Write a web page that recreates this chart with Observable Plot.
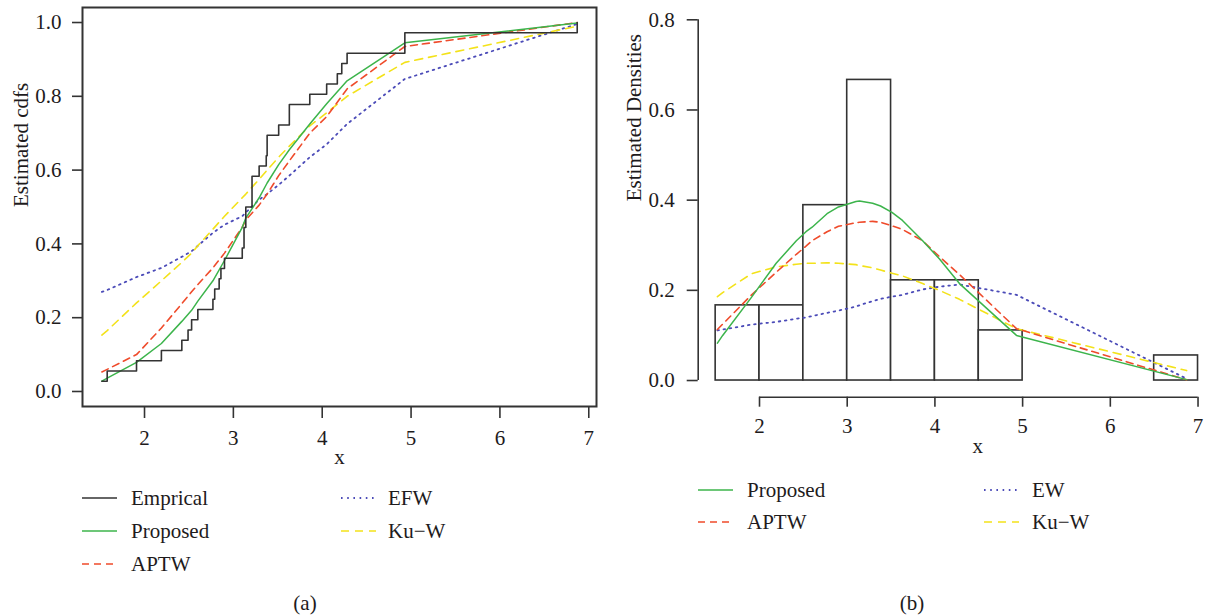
<!DOCTYPE html>
<html><head><meta charset="utf-8">
<script src="https://cdn.jsdelivr.net/npm/d3@7"></script>
<script src="https://cdn.jsdelivr.net/npm/@observablehq/plot@0.6"></script>
<style>
body{margin:0;background:#fff;}
#wrap{position:relative;width:1207px;height:615px;overflow:hidden;font-family:"Liberation Serif",serif;color:#1e1b1c;background:#fff;}
.panel{position:absolute;top:0;}
.panel text{font-family:"Liberation Serif",serif;}
.item{position:absolute;display:flex;align-items:center;white-space:nowrap;font-size:21px;height:30px;}
.item svg{display:block;}
.cap{position:absolute;font-size:21px;transform:translate(-50%,-50%);white-space:nowrap;}
</style></head><body><div id="wrap"></div>
<script>
const sample = [1.52,1.58,1.91,2.19,2.42,2.49,2.53,2.60,2.77,2.79,2.84,2.86,2.90,3.10,3.12,3.12,3.14,3.14,3.21,3.21,3.21,3.29,3.37,3.38,3.38,3.51,3.63,3.63,3.86,4.05,4.17,4.22,4.28,4.93,4.93,6.87];
const binEdges = [1.5,2,2.5,3,3.5,4,4.5,5,5.5,6,6.5,7];
// evaluation points of the fitted curves
const xGrid = [1.52,1.58,1.91,2.19,2.42,2.53,2.60,2.77,2.90,3.10,3.14,3.29,3.38,3.51,3.63,3.86,4.05,4.28,4.93,6.87];
// (a) fitted cdfs
const cdfProposed = [0.028,0.036,0.079,0.13,0.19,0.22,0.245,0.30,0.355,0.445,0.47,0.525,0.565,0.615,0.655,0.725,0.78,0.842,0.945,0.999];
const cdfAPTW     = [0.053,0.06,0.10,0.172,0.238,0.27,0.29,0.335,0.375,0.445,0.465,0.505,0.535,0.585,0.625,0.70,0.745,0.82,0.935,1.0];
const cdfEFW      = [0.27,0.275,0.31,0.335,0.365,0.38,0.395,0.43,0.452,0.475,0.485,0.52,0.535,0.56,0.585,0.635,0.67,0.725,0.847,0.996];
const cdfKuW      = [0.153,0.165,0.24,0.30,0.35,0.375,0.395,0.44,0.475,0.525,0.535,0.575,0.60,0.635,0.665,0.72,0.755,0.80,0.892,0.99];
// (b) fitted densities
const pdfProposed = [0.083,0.10,0.185,0.26,0.31,0.33,0.34,0.37,0.385,0.397,0.398,0.393,0.387,0.373,0.355,0.31,0.27,0.215,0.10,0.002];
const pdfAPTW     = [0.113,0.125,0.19,0.24,0.28,0.298,0.31,0.33,0.342,0.35,0.351,0.353,0.351,0.343,0.335,0.31,0.275,0.235,0.115,0.0015];
const pdfEW       = [0.111,0.113,0.124,0.13,0.137,0.14,0.143,0.15,0.155,0.164,0.167,0.176,0.181,0.186,0.19,0.202,0.208,0.213,0.19,0.004];
const pdfKuW      = [0.186,0.195,0.237,0.252,0.258,0.26,0.26,0.261,0.26,0.257,0.255,0.25,0.245,0.238,0.232,0.215,0.20,0.18,0.115,0.022];
const xTicks = [2,3,4,5,6,7];
const yTicksCdf = [0,0.2,0.4,0.6,0.8,1.0];
const yTicksPdf = [0,0.2,0.4,0.6,0.8];
const namesA = ["Emprical","Proposed","APTW","EFW","Ku\u2212W"];
const namesB = ["Proposed","APTW","EW","Ku\u2212W"];

const INK = "#333";
const FONT = "'Liberation Serif', serif";
const FS = 21;
const sty = {
  "Emprical": {stroke: INK, dash: null, w: 1.6},
  "Proposed": {stroke: "#3cb44b", dash: null, w: 1.5},
  "APTW": {stroke: "#ef4b2b", dash: "7,5", w: 1.6},
  "EFW": {stroke: "#4b4bb8", dash: "1.6,4.6", w: 1.8},
  "EW": {stroke: "#4b4bb8", dash: "1.6,4.6", w: 1.8},
  "Ku\u2212W": {stroke: "#f3e21a", dash: "8,6", w: 1.6}
};
const rows = arr => xGrid.map((x, i) => ({x, y: arr[i]}));
const lineOf = (arr, name) => Plot.line(rows(arr), {x: "x", y: "y", stroke: sty[name].stroke, strokeWidth: sty[name].w, strokeDasharray: sty[name].dash ?? undefined});

const n = sample.length;
const sorted = sample.slice().sort(d3.ascending);
const ecdf = sorted.map((x, i) => ({x, y: (i + 1) / n}));
const binWidth = binEdges[1] - binEdges[0];
const baseStyle = {fontFamily: FONT, fontSize: FS + "px", color: "#1e1b1c", background: "transparent", overflow: "visible"};

const xDomA = [1.302, 7.087], yDomA = [-0.0407, 1.0407];
const left = Plot.plot({
  width: 620, height: 470,
  marginLeft: 82, marginRight: 24, marginTop: 7, marginBottom: 64,
  x: {domain: xDomA}, y: {domain: yDomA},
  style: baseStyle,
  marks: [
    lineOf(cdfEFW, "EFW"),
    lineOf(cdfKuW, "Ku\u2212W"),
    lineOf(cdfAPTW, "APTW"),
    lineOf(cdfProposed, "Proposed"),
    Plot.line(ecdf, {x: "x", y: "y", curve: "step-after", stroke: INK, strokeWidth: 1.6}),
    Plot.frame({stroke: INK, strokeWidth: 2}),
    Plot.axisX({ticks: xTicks, tickSize: 12, tickPadding: 12, tickFormat: d3.format("d"), label: null, strokeWidth: 1.6, stroke: INK, fontFamily: FONT, fontSize: FS}),
    Plot.axisY({ticks: yTicksCdf, tickSize: 10, tickPadding: 11, tickFormat: d3.format(".1f"), label: null, strokeWidth: 1.6, stroke: INK, fontFamily: FONT, fontSize: FS}),
    Plot.text(["Estimated cdfs"], {frameAnchor: "left", rotate: -90, dx: -61, fontSize: FS, fontFamily: FONT}),
    Plot.text(["x"], {frameAnchor: "bottom", dy: 57, fontSize: FS, fontFamily: FONT})
  ]
});

const xDomB = [1.301, 7.108], yDomB = [-0.037, 0.8317];
const right = Plot.plot({
  width: 607, height: 470,
  marginLeft: 97.7, marginRight: 0, marginTop: 5, marginBottom: 73.3,
  x: {domain: xDomB}, y: {domain: yDomB},
  style: baseStyle,
  marks: [
    Plot.rectY(sample, Plot.binX({y: v => v.length / (n * binWidth), filter: null}, {x: d => d, thresholds: binEdges, fill: "white", stroke: INK, strokeWidth: 1.6, inset: 0})),
    lineOf(pdfEW, "EW"),
    lineOf(pdfKuW, "Ku\u2212W"),
    lineOf(pdfAPTW, "APTW"),
    lineOf(pdfProposed, "Proposed"),
    Plot.ruleX([xDomB[0]], {y1: yTicksPdf[0], y2: yTicksPdf[yTicksPdf.length - 1], stroke: INK, strokeWidth: 1.6}),
    Plot.ruleY([yDomB[0]], {x1: xTicks[0], x2: xTicks[xTicks.length - 1], stroke: INK, strokeWidth: 1.6}),
    Plot.axisX({ticks: xTicks, tickSize: 10, tickPadding: 11, tickFormat: d3.format("d"), label: null, strokeWidth: 1.6, stroke: INK, fontFamily: FONT, fontSize: FS}),
    Plot.axisY({ticks: yTicksPdf, tickSize: 11, tickPadding: 12.5, tickFormat: d3.format(".1f"), label: null, strokeWidth: 1.6, stroke: INK, fontFamily: FONT, fontSize: FS}),
    Plot.text(["Estimated Densities"], {frameAnchor: "left", rotate: -90, dx: -64, fontSize: FS, fontFamily: FONT}),
    Plot.text(["x"], {frameAnchor: "bottom", dy: 56, dx: 25, fontSize: FS, fontFamily: FONT})
  ]
});

const wrap = document.getElementById("wrap");
left.classList.add("panel"); left.style.left = "0px";
right.classList.add("panel"); right.style.left = "600px";
wrap.appendChild(left); wrap.appendChild(right);

function legendItem(name, x, y, textX) {
  const s = sty[name];
  const div = document.createElement("div");
  div.className = "item";
  div.style.left = x + "px"; div.style.top = (y - 15) + "px";
  const lw = 35;
  div.innerHTML = `<svg width="${lw}" height="30"><line x1="0" x2="${lw}" y1="15" y2="15" stroke="${s.stroke}" stroke-width="${s.w}" ${s.dash ? `stroke-dasharray="${s.dash}"` : ""}/></svg><span style="margin-left:${textX - x - lw}px">${name}</span>`;
  wrap.appendChild(div);
}
// legend (a)
const rowsA = [498, 531, 564];
legendItem(namesA[0], 82, rowsA[0], 131);
legendItem(namesA[1], 82, rowsA[1], 131);
legendItem(namesA[2], 82, rowsA[2], 131);
legendItem(namesA[3], 341, rowsA[0], 388);
legendItem(namesA[4], 341, rowsA[1], 388);
// legend (b)
const rowsB = [490, 522];
legendItem(namesB[0], 698, rowsB[0], 747);
legendItem(namesB[1], 698, rowsB[1], 747);
legendItem(namesB[2], 984, rowsB[0], 1032);
legendItem(namesB[3], 984, rowsB[1], 1032);

function caption(t, x, y) {
  const d = document.createElement("div");
  d.className = "cap"; d.style.left = x + "px"; d.style.top = y + "px"; d.textContent = t;
  wrap.appendChild(d);
}
caption("(a)", 305, 603);
caption("(b)", 912, 603);
</script></body></html>
